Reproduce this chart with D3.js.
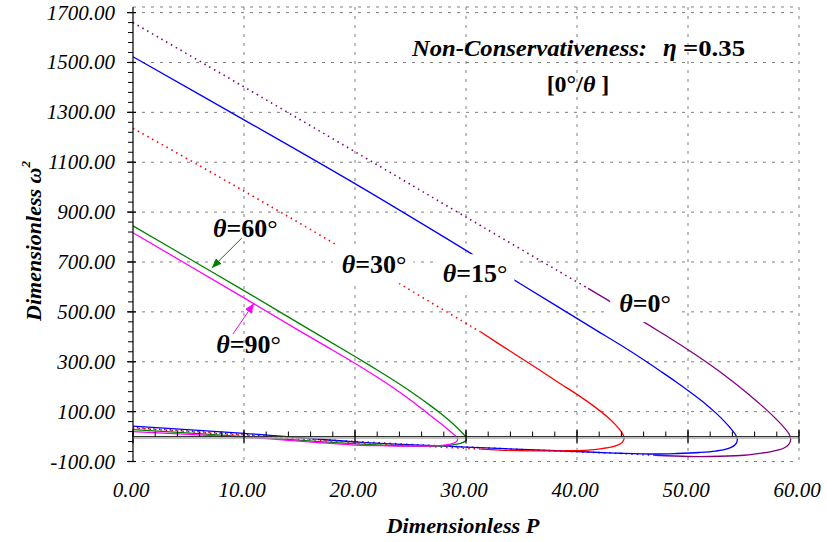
<!DOCTYPE html>
<html>
<head>
<meta charset="utf-8">
<script src="https://cdn.jsdelivr.net/npm/d3@7/dist/d3.min.js"></script>
<style>
  body { margin: 0; background: #fff; }
</style>
</head>
<body>
<script>
// values, as [P, omega^2]
const xTicks = [0, 10, 20, 30, 40, 50, 60];
const yTicks = [-100, 100, 300, 500, 700, 900, 1100, 1300, 1500, 1700];

// theta = 0 deg
const theta0Upper = [[0, 1660], [10, 1402], [20, 1142], [30, 880], [41, 594]];
const theta0Turn = [[41, 594], [43.5, 528], [45.9, 463], [48, 405], [50, 348], [52, 288], [54, 222],
  [55.5, 168], [56.8, 118], [57.9, 72], [58.7, 34], [59.15, 6], [59.25, -12], [59.1, -30], [58.6, -47],
  [57.5, -60], [56.5, -67], [54.7, -76], [52, -80], [50, -80], [47, -75]];
const theta0Lower = [[47, -75], [44, -68], [40, -61], [30, -42], [20, -20], [10, 8], [0, 36]];

// theta = 15 deg
const theta15 = [[0, 1523], [10, 1270], [20, 1014], [30.5, 733], [35, 610], [41.6, 430], [44, 365],
  [46, 308], [47.5, 263], [49, 217], [50.3, 175], [51.5, 134], [52.5, 95], [53.3, 60], [53.9, 30],
  [54.3, 6], [54.45, -13], [54.25, -33], [53.6, -48], [52.5, -58], [51, -64], [49, -68], [47, -70],
  [44, -67], [40, -60], [30, -42], [20, -21], [10, 13], [0, 42]];

// theta = 30 deg
const theta30Upper = [[0, 1236], [6, 1086], [12, 933], [18.2, 772], [24.2, 608], [31.3, 420]];
const theta30Turn = [[31.3, 420], [34, 342], [36.7, 265], [38.5, 212], [40.3, 160], [41.6, 119],
  [42.7, 80], [43.5, 46], [44, 19], [44.25, -5], [44.1, -22], [43.6, -35], [42.4, -47], [41, -54],
  [39, -57], [36, -57], [33, -54], [31.3, -50]];
const theta30Lower = [[31.3, -50], [25, -36], [20, -24], [10, 5], [0, 34]];

// theta = 60 deg
const theta60 = [[0, 845], [5, 715], [10, 585], [15, 453], [20, 321], [22, 267], [24, 211],
  [25.5, 166], [26.8, 124], [27.9, 86], [28.8, 52], [29.5, 22], [29.9, 3], [30.05, -8], [29.95, -18],
  [29.5, -27], [28.5, -35], [27, -38], [25, -38], [20, -29], [10, 0], [0, 28]];

// theta = 90 deg
const theta90 = [[0, 817], [5, 687], [10, 556], [15, 424], [18, 346], [20.5, 280], [22.5, 224],
  [24, 179], [25.2, 140], [26.5, 95], [27.5, 60], [28.3, 31], [28.8, 12], [29.15, -2], [29.25, -12],
  [29.1, -22], [28.6, -30], [27.5, -36], [26, -38], [23, -37], [20, -34], [10, -3], [0, 20]];

// layout
const plot = {left: 133, right: 799, top: 7, bottom: 461.5, yTop: 12.6};
const serif = '"Liberation Serif", "Times New Roman", Times, serif';

const x = d3.scaleLinear().domain([0, 60]).range([plot.left, plot.right]);
const y = d3.scaleLinear().domain([-100, 1700]).range([plot.bottom, plot.yTop]);
const fmt = d => d.toFixed(2);

const series = [
  {color: "#800080", parts: [[theta0Upper, true], [theta0Turn, false], [theta0Lower, true]]},
  {color: "#0000ff", parts: [[theta15, false]]},
  {color: "#ff0000", parts: [[theta30Upper, true], [theta30Turn, false], [theta30Lower, true]]},
  {color: "#008000", parts: [[theta60, false]]},
  {color: "#ff00ff", parts: [[theta90, false]]}
];

const svg = d3.select("body").append("svg")
  .attr("width", 827)
  .attr("height", 542)
  .style("font-family", serif);

drawGrid();
drawCurves();
drawAxes();
drawLabels();
drawTitles();

function addText(parent) {
  return parent.append("text").style("font-family", serif).attr("fill", "#000");
}

function drawGrid() {
  const g = svg.append("g").attr("stroke", "#808080").attr("stroke-width", 1)
    .attr("stroke-dasharray", "3,6");

  g.selectAll("line.h").data(yTicks).enter().append("line")
    .attr("x1", plot.left).attr("x2", plot.right)
    .attr("y1", d => y(d)).attr("y2", d => y(d));

  g.selectAll("line.v").data(xTicks.slice(1)).enter().append("line")
    .attr("x1", d => x(d)).attr("x2", d => x(d))
    .attr("y1", plot.top).attr("y2", plot.bottom);

  // top border
  g.append("line")
    .attr("x1", plot.left).attr("x2", plot.right)
    .attr("y1", plot.top).attr("y2", plot.top);
}

function drawCurves() {
  const line = d3.line()
    .x(d => x(d[0]))
    .y(d => y(d[1]))
    .curve(d3.curveCatmullRom.alpha(0.5));

  series.forEach(s => {
    s.parts.forEach(([pts, dotted]) => {
      svg.append("path")
        .attr("d", line(pts))
        .attr("fill", "none")
        .attr("stroke", s.color)
        .attr("stroke-width", dotted ? 1.6 : 1.3)
        .attr("stroke-dasharray", dotted ? "1.5,4" : null);
    });
  });
}

function drawAxes() {
  // y axis on the left
  svg.append("line")
    .attr("x1", plot.left).attr("x2", plot.left)
    .attr("y1", plot.top).attr("y2", plot.bottom)
    .attr("stroke", "#000").attr("stroke-width", 1.2);

  svg.selectAll("line.yminor").data(d3.range(-100, 1701, 40)).enter().append("line")
    .attr("x1", plot.left - 5).attr("x2", plot.left)
    .attr("y1", d => y(d)).attr("y2", d => y(d))
    .attr("stroke", "#000");

  svg.selectAll("line.ymajor").data(yTicks).enter().append("line")
    .attr("x1", plot.left - 6).attr("x2", plot.left + 3)
    .attr("y1", d => y(d)).attr("y2", d => y(d))
    .attr("stroke", "#000").attr("stroke-width", 1.2);

  yTicks.forEach(d => {
    addText(svg)
      .attr("x", 115)
      .attr("y", y(d) + 7)
      .attr("text-anchor", "end")
      .attr("font-size", 21)
      .attr("font-style", "italic")
      .text(fmt(d));
  });

  // x axis drawn along omega^2 = 0
  const y0 = y(0);
  svg.append("line")
    .attr("x1", plot.left).attr("x2", plot.right)
    .attr("y1", y0 + 1.5).attr("y2", y0 + 1.5)
    .attr("stroke", "#aaa").attr("stroke-width", 1.5);
  svg.append("line")
    .attr("x1", plot.left).attr("x2", plot.right)
    .attr("y1", y0).attr("y2", y0)
    .attr("stroke", "#333").attr("stroke-width", 1.1);

  svg.selectAll("line.xminor").data(d3.range(0, 61, 2)).enter().append("line")
    .attr("x1", d => x(d)).attr("x2", d => x(d))
    .attr("y1", y0 - 5).attr("y2", y0)
    .attr("stroke", "#000");

  svg.selectAll("line.xmajor").data(xTicks).enter().append("line")
    .attr("x1", d => x(d)).attr("x2", d => x(d))
    .attr("y1", y0 - 7).attr("y2", y0 + 7)
    .attr("stroke", "#000").attr("stroke-width", 1.2);

  xTicks.forEach(d => {
    addText(svg)
      .attr("x", x(d) - 2)
      .attr("y", 496.5)
      .attr("text-anchor", "middle")
      .attr("font-size", 21)
      .attr("font-style", "italic")
      .text(fmt(d));
  });
}

function drawLabels() {
  const labels = [
    {deg: "60", p: 7.2, w: 800, box: false},
    {deg: "30", p: 18.8, w: 655, box: true},
    {deg: "15", p: 27.9, w: 619, box: true},
    {deg: "0", p: 43.8, w: 499, box: true},
    {deg: "90", p: 7.5, w: 335, box: false}
  ];

  labels.forEach(l => {
    const bx = x(l.p), by = y(l.w);
    const boxG = svg.append("g");
    const t = addText(svg)
      .attr("x", bx).attr("y", by)
      .attr("font-size", 26)
      .attr("font-weight", "bold");
    t.append("tspan").attr("font-style", "italic").text("θ");
    t.append("tspan").text("=" + l.deg);
    t.append("tspan").attr("font-weight", "normal").text("°");
    if (l.box) {
      const bb = t.node().getBBox();
      boxG.append("rect")
        .attr("x", bb.x - 9).attr("y", by - 28)
        .attr("width", bb.width + 16).attr("height", 38)
        .attr("fill", "#fff");
    }
  });

  // arrows
  const defs = svg.append("defs");
  [["ag", "#008000"], ["am", "#ff00ff"]].forEach(([id, c]) => {
    defs.append("marker")
      .attr("id", id)
      .attr("viewBox", "0 0 10 8")
      .attr("refX", 10).attr("refY", 4)
      .attr("markerWidth", 10).attr("markerHeight", 8)
      .attr("markerUnits", "userSpaceOnUse")
      .attr("orient", "auto")
      .append("path").attr("d", "M0,0 L10,4 L0,8 Z").attr("fill", c);
  });

  const arrows = [
    {from: [9.8, 796], to: [7.1, 676], color: "#008000", id: "ag"},
    {from: [9.0, 411], to: [10.9, 535], color: "#ff00ff", id: "am"}
  ];
  svg.selectAll("line.arrow").data(arrows).enter().append("line")
    .attr("x1", d => x(d.from[0])).attr("y1", d => y(d.from[1]))
    .attr("x2", d => x(d.to[0])).attr("y2", d => y(d.to[1]))
    .attr("stroke", d => d.color).attr("stroke-width", 1)
    .attr("marker-end", d => `url(#${d.id})`);
}

function drawTitles() {
  // chart note
  addText(svg)
    .attr("x", 412).attr("y", 56)
    .attr("font-size", 24).attr("font-weight", "bold").attr("font-style", "italic")
    .attr("textLength", 235).attr("lengthAdjust", "spacingAndGlyphs")
    .text("Non-Conservativeness:");
  addText(svg)
    .attr("x", 663).attr("y", 56)
    .attr("font-size", 25).attr("font-weight", "bold").attr("font-style", "italic")
    .text("η");
  addText(svg)
    .attr("x", 683).attr("y", 56)
    .attr("font-size", 24).attr("font-weight", "bold")
    .attr("textLength", 62).attr("lengthAdjust", "spacingAndGlyphs")
    .text("=0.35");

  const sub = addText(svg)
    .attr("x", 578).attr("y", 92)
    .attr("text-anchor", "middle")
    .attr("font-size", 24).attr("font-weight", "bold");
  sub.append("tspan").text("[0°/");
  sub.append("tspan").attr("font-style", "italic").text("θ");
  sub.append("tspan").text(" ]");

  // axis titles
  addText(svg)
    .attr("x", 463).attr("y", 533)
    .attr("text-anchor", "middle")
    .attr("font-size", 21).attr("font-weight", "bold").attr("font-style", "italic")
    .attr("textLength", 153).attr("lengthAdjust", "spacingAndGlyphs")
    .text("Dimensionless P");

  const yt = addText(svg)
    .attr("transform", "translate(41,241) rotate(-90)")
    .attr("text-anchor", "middle")
    .attr("font-size", 22).attr("font-weight", "bold").attr("font-style", "italic");
  yt.append("tspan").text("Dimensionless ω");
  yt.append("tspan").attr("font-size", 13).attr("dy", -11).text("2");
}
</script>
</body>
</html>
